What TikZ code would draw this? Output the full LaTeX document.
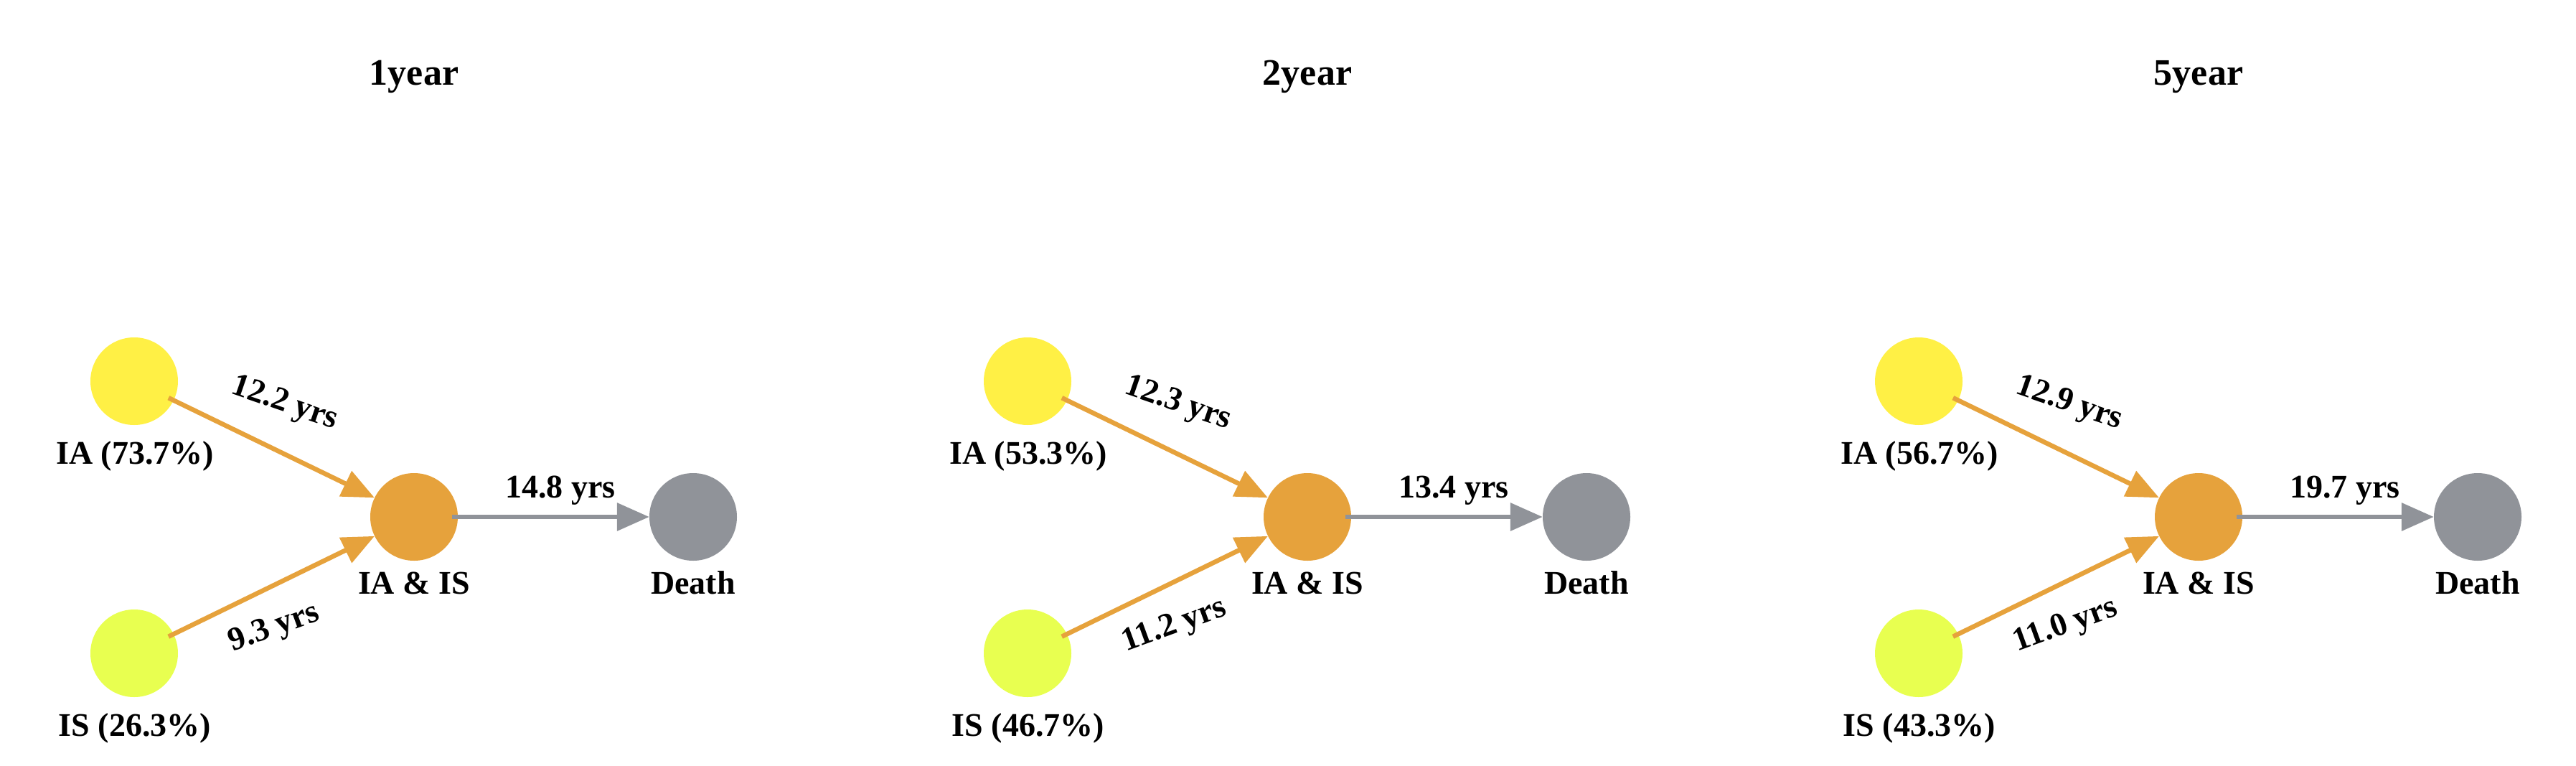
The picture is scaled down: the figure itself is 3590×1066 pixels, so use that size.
\documentclass[tikz,border=0pt]{standalone}
\usepackage{fontspec}
\setmainfont{Liberation Serif}
\usetikzlibrary{arrows.meta}
\definecolor{cIA}{HTML}{FFF045}
\definecolor{cIS}{HTML}{E8FF50}
\definecolor{cBoth}{HTML}{E6A23C}
\definecolor{cDeath}{HTML}{909399}
\begin{document}
\begin{tikzpicture}[x=1pt,y=-1pt,
  state/.style={circle,minimum size=122pt,inner sep=0pt,draw=none},
  nlabel/.style={anchor=base,inner sep=0pt,font=\bfseries\fontsize{46}{54}\selectfont},
  elabel/.style={inner sep=0pt,font=\bfseries\fontsize{46}{54}\selectfont},
  ttl/.style={anchor=base,inner sep=0pt,font=\bfseries\fontsize{52}{60}\selectfont},
  flow/.style={line width=6.5pt,-{Triangle[length=45pt,width=38pt]},shorten <=-8pt},
]
\useasboundingbox (0,0) rectangle (3590,1066);
\foreach \i/\dx/\T/\pa/\ps/\ea/\es/\ed in
  {1/0/1year/73.7/26.3/12.2/9.3/14.8,
   2/1245/2year/53.3/46.7/12.3/11.2/13.4,
   3/2487/5year/56.7/43.3/12.9/11.0/19.7}{
  \begin{scope}[xshift=\dx]
    \node[ttl] (t\i) at (577,118) {\T};
    \node[state,fill=cIA] (ia\i) at (187,531) {};
    \node[state,fill=cIS] (is\i) at (187,910) {};
    \node[state,fill=cBoth] (b\i) at (577,720) {};
    \node[state,fill=cDeath] (d\i) at (966,720) {};
    \node[nlabel] (lia\i) at (188,646) {IA (\pa\%)};
    \node[nlabel] (lis\i) at (188,1025) {IS (\ps\%)};
    \node[nlabel] (lb\i) at (577,827) {IA \& IS};
    \node[nlabel] (ld\i) at (966,827) {Death};
    \draw[flow,cBoth] (ia\i) -- (b\i);
    \draw[flow,cBoth] (is\i) -- (b\i);
    \draw[flow,cDeath] (b\i) -- (d\i);
    \node[elabel,anchor=west,rotate=-19] (ea\i) at (324,538) {\ea\ yrs};
    \node[elabel,anchor=west,rotate=20] (es\i) at (321,898) {\es\ yrs};
    \node[elabel,anchor=base] (ed\i) at (781,693) {\ed\ yrs};
  \end{scope}
}
\end{tikzpicture}
\end{document}
